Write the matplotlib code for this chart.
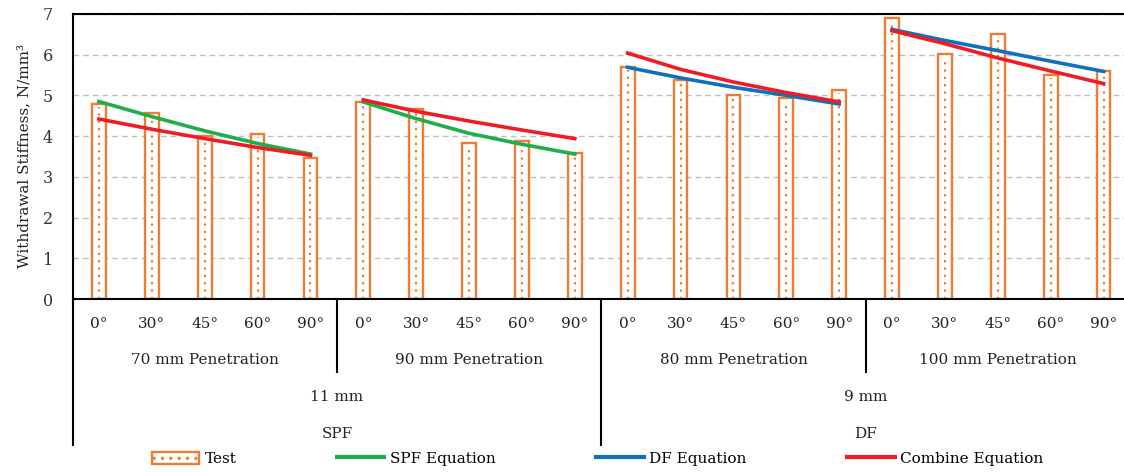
import matplotlib
matplotlib.use("Agg")
import matplotlib.pyplot as plt
import matplotlib.transforms as mtransforms
from matplotlib.lines import Line2D
from matplotlib.patches import Patch
import numpy as np

plt.rcParams['font.family'] = ['DejaVu Serif', 'Liberation Serif']
plt.rcParams['hatch.color'] = '#ED7D31'
plt.rcParams['hatch.linewidth'] = 1.2

angles = ["0°", "30°", "45°", "60°", "90°"]
penetrations = ["70 mm Penetration", "90 mm Penetration", "80 mm Penetration", "100 mm Penetration"]
diameters = ["11 mm", "9 mm"]
species = ["SPF", "DF"]

test = [4.80, 4.58, 4.01, 4.06, 3.46,
        4.83, 4.67, 3.82, 3.87, 3.59,
        5.70, 5.37, 5.02, 4.93, 5.13,
        6.90, 6.02, 6.50, 5.51, 5.59]

spf_eq_70 = [4.85, 4.48, 4.13, 3.82, 3.56]
spf_eq_90 = [4.84, 4.43, 4.07, 3.80, 3.56]
df_eq_80 = [5.69, 5.43, 5.20, 5.00, 4.79]
df_eq_100 = [6.62, 6.35, 6.10, 5.84, 5.59]
comb_eq_70 = [4.42, 4.17, 3.94, 3.72, 3.53]
comb_eq_90 = [4.89, 4.61, 4.37, 4.15, 3.94]
comb_eq_80 = [6.04, 5.64, 5.33, 5.07, 4.84]
comb_eq_100 = [6.59, 6.27, 5.92, 5.60, 5.29]

W, H = 1124, 472
fig = plt.figure(figsize=(W / 100, H / 100), dpi=100)
ax_left, ax_right, ax_top, ax_bot = 72.5, 1130, 14, 299
ax = fig.add_axes([ax_left / W, 1 - ax_bot / H, (ax_right - ax_left) / W, (ax_bot - ax_top) / H])

orange = '#ED7D31'
green = '#1DAF4C'
blue = '#1070BD'
red = '#EE1C25'

x = np.arange(len(test))
ax.bar(x, test, width=0.26, facecolor='white', edgecolor=orange, linewidth=1.7, zorder=2)
ax.vlines(x, 0, np.array(test) - 0.08, colors=orange, linestyles=(0, (1, 2.3)), lw=1.6, zorder=2.5)

def seg(i):
    return x[i * 5:(i + 1) * 5]

lw = 2.6
ax.plot(seg(0), spf_eq_70, color=green, lw=lw, zorder=3)
ax.plot(seg(1), spf_eq_90, color=green, lw=lw, zorder=3)
ax.plot(seg(2), df_eq_80, color=blue, lw=lw, zorder=3)
ax.plot(seg(3), df_eq_100, color=blue, lw=lw, zorder=3)
ax.plot(seg(0), comb_eq_70, color=red, lw=lw, zorder=4)
ax.plot(seg(1), comb_eq_90, color=red, lw=lw, zorder=4)
ax.plot(seg(2), comb_eq_80, color=red, lw=lw, zorder=4)
ax.plot(seg(3), comb_eq_100, color=red, lw=lw, zorder=4)

fs = 11
ax.set_xlim(-0.5, len(test) - 0.5)
ax.set_ylim(0, 7)
ax.set_yticks(range(0, 8))
ax.tick_params(axis='y', length=0, labelsize=fs + 0.5, pad=14, labelcolor='#333333')
ax.tick_params(axis='x', length=0, labelbottom=False)
ax.grid(axis='y', color='#BFBFBF', linestyle=(0, (4, 3)), linewidth=1.0, zorder=0)
ax.set_axisbelow(True)
for s in ['left', 'top', 'bottom', 'right']:
    ax.spines[s].set_color('black')
    ax.spines[s].set_linewidth(1.5)
ax.set_ylabel("Withdrawal Stiffness, N/mm³", fontsize=fs, labelpad=8, color='#222222')

# category table under axis
trans = mtransforms.blended_transform_factory(ax.transData, fig.transFigure)
def fy(py):
    return 1 - py / H

tc = '#222222'
for i, xi in enumerate(x):
    ax.text(xi, fy(324), angles[i % 5], transform=trans, ha='center', va='center', fontsize=fs, color=tc)
for g in range(4):
    ax.text(g * 5 + 2, fy(360), penetrations[g], transform=trans, ha='center', va='center', fontsize=fs, color=tc)
for g in range(2):
    ax.text(g * 10 + 4.5, fy(397), diameters[g], transform=trans, ha='center', va='center', fontsize=fs, color=tc)
    ax.text(g * 10 + 4.5, fy(434), species[g], transform=trans, ha='center', va='center', fontsize=fs, color=tc)

lk = dict(transform=trans, color='black', lw=1.5, clip_on=False)
for xb in [-0.5, 9.5]:
    fig.add_artist(Line2D([xb, xb], [fy(299), fy(445)], **lk))
for xb in [4.5, 14.5]:
    fig.add_artist(Line2D([xb, xb], [fy(299), fy(372)], **lk))

handles = [Patch(facecolor='white', edgecolor=orange, hatch='..', linewidth=1.7),
           Line2D([], [], color=green, lw=3),
           Line2D([], [], color=blue, lw=3),
           Line2D([], [], color=red, lw=3)]
labels = ["Test", "SPF Equation", "DF Equation", "Combine Equation"]
fig.legend(handles, labels, loc='center', bbox_to_anchor=(597.5 / W, fy(459)), ncol=4,
           frameon=False, fontsize=fs, handlelength=3.1, handleheight=0.8,
           columnspacing=6.6, handletextpad=0.35, borderaxespad=0, borderpad=0)

fig.savefig("out.png", dpi=100)
